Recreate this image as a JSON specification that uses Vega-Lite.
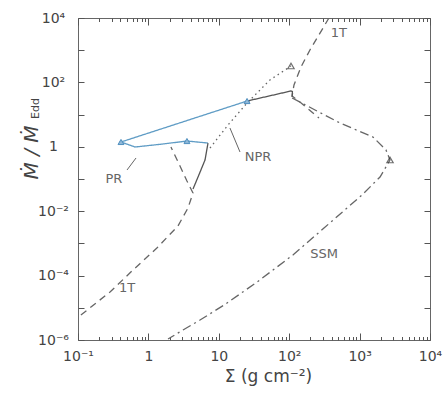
{
  "$schema": "https://vega.github.io/schema/vega-lite/v6.json",
  "width": 352,
  "height": 322,
  "autosize": {"type": "none"},
  "padding": {"left": 78, "top": 18, "right": 18, "bottom": 55},
  "background": "white",
  "config": {
    "view": {"stroke": "#666", "strokeWidth": 1},
    "axis": {
      "domain": false, "grid": false, "tickColor": "#555", "tickWidth": 1, "zindex": 1,
      "labelColor": "#444", "titleColor": "#444", "labelFont": "DejaVu Sans", "titleFont": "DejaVu Sans",
      "labelFontSize": 14, "titleFontWeight": "normal", "labelOverlap": false, "labelFlush": false, "labelBound": false
    }
  },
  "datasets": {
    "curves": [
      {"c": "T1a", "i": 1, "s": 0.11, "m": 5.97e-6},
      {"c": "T1a", "i": 2, "s": 0.285, "m": 3.1e-5},
      {"c": "T1a", "i": 3, "s": 0.604, "m": 1.49e-4},
      {"c": "T1a", "i": 4, "s": 1.32, "m": 7.2e-4},
      {"c": "T1a", "i": 5, "s": 2.63, "m": 3.47e-3},
      {"c": "T1a", "i": 6, "s": 3.65, "m": 0.01256},
      {"c": "T1a", "i": 7, "s": 4.3, "m": 0.0367},
      {"c": "T1a", "i": 8, "s": 3.53, "m": 0.0867},
      {"c": "T1a", "i": 9, "s": 2.81, "m": 0.2536},
      {"c": "T1a", "i": 10, "s": 2.09, "m": 0.986},
      {"c": "T1b", "i": 1, "s": 367, "m": 10000},
      {"c": "T1b", "i": 2, "s": 197, "m": 1014},
      {"c": "T1b", "i": 3, "s": 147, "m": 301},
      {"c": "T1b", "i": 4, "s": 117, "m": 83},
      {"c": "T1b", "i": 5, "s": 110, "m": 37.8},
      {"c": "T1b", "i": 6, "s": 142, "m": 24.6},
      {"c": "T1b", "i": 7, "s": 265, "m": 7.83},
      {"c": "SSM", "i": 1, "s": 110, "m": 32.8},
      {"c": "SSM", "i": 2, "s": 527, "m": 5.48},
      {"c": "SSM", "i": 3, "s": 1549, "m": 2.01},
      {"c": "SSM", "i": 4, "s": 2371, "m": 0.796},
      {"c": "SSM", "i": 5, "s": 2704, "m": 0.389},
      {"c": "SSM", "i": 6, "s": 1950, "m": 0.1153},
      {"c": "SSM", "i": 7, "s": 1081, "m": 0.0318},
      {"c": "SSM", "i": 8, "s": 312, "m": 0.003},
      {"c": "SSM", "i": 9, "s": 113, "m": 4.37e-4},
      {"c": "SSM", "i": 10, "s": 34.9, "m": 6.3e-5},
      {"c": "SSM", "i": 11, "s": 11.9, "m": 1.22e-5},
      {"c": "SSM", "i": 12, "s": 5.41, "m": 4.18e-6},
      {"c": "SSM", "i": 13, "s": 3.1, "m": 2.05e-6},
      {"c": "SSM", "i": 14, "s": 1.9, "m": 1.07e-6},
      {"c": "NPR", "i": 1, "s": 7.5, "m": 0.918},
      {"c": "NPR", "i": 2, "s": 13.5, "m": 4.75},
      {"c": "NPR", "i": 3, "s": 25.2, "m": 22.9},
      {"c": "NPR", "i": 4, "s": 53.3, "m": 119},
      {"c": "NPR", "i": 5, "s": 106, "m": 323},
      {"c": "PR", "i": 1, "s": 7.03, "m": 1.31},
      {"c": "PR", "i": 2, "s": 3.53, "m": 1.51},
      {"c": "PR", "i": 3, "s": 1.5, "m": 1.2},
      {"c": "PR", "i": 4, "s": 0.646, "m": 0.986},
      {"c": "PR", "i": 5, "s": 0.408, "m": 1.41},
      {"c": "PR", "i": 6, "s": 25.2, "m": 26.4},
      {"c": "Sa", "i": 1, "s": 25.2, "m": 26.4},
      {"c": "Sa", "i": 2, "s": 106, "m": 54.1},
      {"c": "Sa", "i": 3, "s": 111, "m": 52},
      {"c": "Sa", "i": 4, "s": 110, "m": 35.2},
      {"c": "Sb", "i": 1, "s": 7.03, "m": 1.31},
      {"c": "Sb", "i": 2, "s": 6.37, "m": 0.389},
      {"c": "Sb", "i": 3, "s": 5.07, "m": 0.1153},
      {"c": "Sb", "i": 4, "s": 4.3, "m": 0.0489}
    ],
    "open": [
      {"s": 106, "m": 323},
      {"s": 2704, "m": 0.389}
    ],
    "blue": [
      {"s": 0.408, "m": 1.41},
      {"s": 3.53, "m": 1.51},
      {"s": 25.2, "m": 26.4}
    ],
    "labels": [
      {"t": "1T", "s": 509, "m": 3420, "k": "g"},
      {"t": "1T", "s": 0.497, "m": 4.12e-5, "k": "g"},
      {"t": "PR", "s": 0.324, "m": 0.1, "k": "b"},
      {"t": "NPR", "s": 36.1, "m": 0.482, "k": "g"},
      {"t": "SSM", "s": 312, "m": 4.69e-4, "k": "g"}
    ],
    "leaders": [
      {"s": 14.4, "m": 3.84, "s2": 20.0, "m2": 0.69},
      {"s": 0.497, "m": 0.1905, "s2": 0.667, "m2": 0.449}
    ]
  },
  "layer": [
    {
      "data": {"name": "curves"},
      "mark": {"type": "line", "strokeWidth": 1.3, "clip": true},
      "encoding": {
        "x": {
          "field": "s", "type": "quantitative",
          "scale": {"type": "log", "domain": [0.1, 10000], "nice": false},
          "axis": {
            "orient": "bottom",
            "values": [0.1, 1, 10, 100, 1000, 10000],
            "tickSize": -7,
            "labelPadding": 16,
            "labelExpr": "round(log(datum.value)/LN10) == -1 ? '10⁻¹' : round(log(datum.value)/LN10) == 0 ? '1' : round(log(datum.value)/LN10) == 1 ? '10' : round(log(datum.value)/LN10) == 2 ? '10²' : round(log(datum.value)/LN10) == 3 ? '10³' : '10⁴'",
            "title": "Σ  (g  cm⁻²)",
            "titleFontSize": 17,
            "titleX": 190, "titleY": 36, "titleAlign": "center", "titleBaseline": "middle"
          }
        },
        "y": {
          "field": "m", "type": "quantitative",
          "scale": {"type": "log", "domain": [1e-6, 10000], "nice": false},
          "axis": {
            "orient": "left",
            "values": [1e-6,1e-5,1e-4,1e-3,1e-2,1e-1,1,10,100,1000,10000],
            "tickSize": -6,
            "labelPadding": 31,
            "labelAlign": "center",
            "labelBaseline": "middle",
            "labelExpr": "round(log(datum.value)/LN10) == 4 ? '10⁴' : round(log(datum.value)/LN10) == 2 ? '10²' : round(log(datum.value)/LN10) == 0 ? '1' : round(log(datum.value)/LN10) == -2 ? '10⁻²' : round(log(datum.value)/LN10) == -4 ? '10⁻⁴' : round(log(datum.value)/LN10) == -6 ? '10⁻⁶' : ''",
            "title": "Ṁ  /  Ṁ",
            "titleFontSize": 20,
            "titleFontStyle": "italic",
            "titleAngle": 270,
            "titleX": -47, "titleY": 134, "titleAlign": "center", "titleBaseline": "middle"
          }
        },
        "color": {
          "field": "c", "type": "nominal", "legend": null,
          "scale": {"domain": ["T1a","T1b","SSM","NPR","PR","Sa","Sb"], "range": ["#666","#666","#666","#666","#5f9cc5","#555","#555"]}
        },
        "strokeDash": {
          "field": "c", "type": "nominal", "legend": null,
          "scale": {"domain": ["T1a","T1b","SSM","NPR","PR","Sa","Sb"], "range": [[7,5],[7,5],[9,4,2,4],[1.5,3.5],[1,0],[1,0],[1,0]]}
        },
        "order": {"field": "i", "type": "quantitative"}
      }
    },
    {
      "data": {"name": "open"},
      "mark": {"type": "point", "shape": "triangle-up", "filled": false, "stroke": "#333", "strokeWidth": 1.2, "size": 40},
      "encoding": {
        "x": {
          "field": "s", "type": "quantitative",
          "axis": {
            "orient": "top",
            "values": [0.1, 1, 10, 100, 1000, 10000],
            "tickSize": -7,
            "labels": false,
            "title": null
          }
        },
        "y": {
          "field": "m", "type": "quantitative",
          "axis": {
            "orient": "right",
            "values": [1e-6,1e-5,1e-4,1e-3,1e-2,1e-1,1,10,100,1000,10000],
            "tickSize": -6,
            "labels": false,
            "title": "Edd",
            "titleFontSize": 11,
            "titleAngle": 270,
            "titleX": -395, "titleY": 90, "titleAlign": "center", "titleBaseline": "middle"
          }
        }
      }
    },
    {
      "data": {"name": "blue"},
      "mark": {"type": "point", "shape": "triangle-up", "filled": true, "fill": "#8fb8d8", "stroke": "#4f8fbf", "strokeWidth": 1, "size": 35, "opacity": 1},
      "encoding": {
        "x": {
          "field": "s", "type": "quantitative",
          "axis": {
            "orient": "bottom",
            "values": [0.2,0.3,0.4,0.5,0.6,0.7,0.8,0.9,2,3,4,5,6,7,8,9,20,30,40,50,60,70,80,90,200,300,400,500,600,700,800,900,2000,3000,4000,5000,6000,7000,8000,9000],
            "tickSize": -3.5,
            "labels": false,
            "title": null
          }
        },
        "y": {"field": "m", "type": "quantitative", "axis": null}
      }
    },
    {
      "data": {"name": "leaders"},
      "mark": {"type": "rule", "stroke": "#666", "strokeWidth": 1},
      "encoding": {
        "x": {
          "field": "s", "type": "quantitative",
          "axis": {
            "orient": "top",
            "values": [0.2,0.3,0.4,0.5,0.6,0.7,0.8,0.9,2,3,4,5,6,7,8,9,20,30,40,50,60,70,80,90,200,300,400,500,600,700,800,900,2000,3000,4000,5000,6000,7000,8000,9000],
            "tickSize": -3.5,
            "labels": false,
            "title": null
          }
        },
        "y": {"field": "m", "type": "quantitative", "axis": null},
        "x2": {"field": "s2"},
        "y2": {"field": "m2"}
      }
    },
    {
      "data": {"name": "labels"},
      "mark": {"type": "text", "font": "DejaVu Sans", "fontSize": 13, "align": "center", "baseline": "middle"},
      "encoding": {
        "x": {"field": "s", "type": "quantitative", "axis": null},
        "y": {"field": "m", "type": "quantitative", "axis": null},
        "text": {"field": "t"},
        "color": {"field": "k", "type": "nominal", "legend": null, "scale": {"domain": ["g","b"], "range": ["#444","#5f9cc5"]}}
      }
    }
  ],
  "resolve": {"axis": {"x": "independent", "y": "independent"}}
}
